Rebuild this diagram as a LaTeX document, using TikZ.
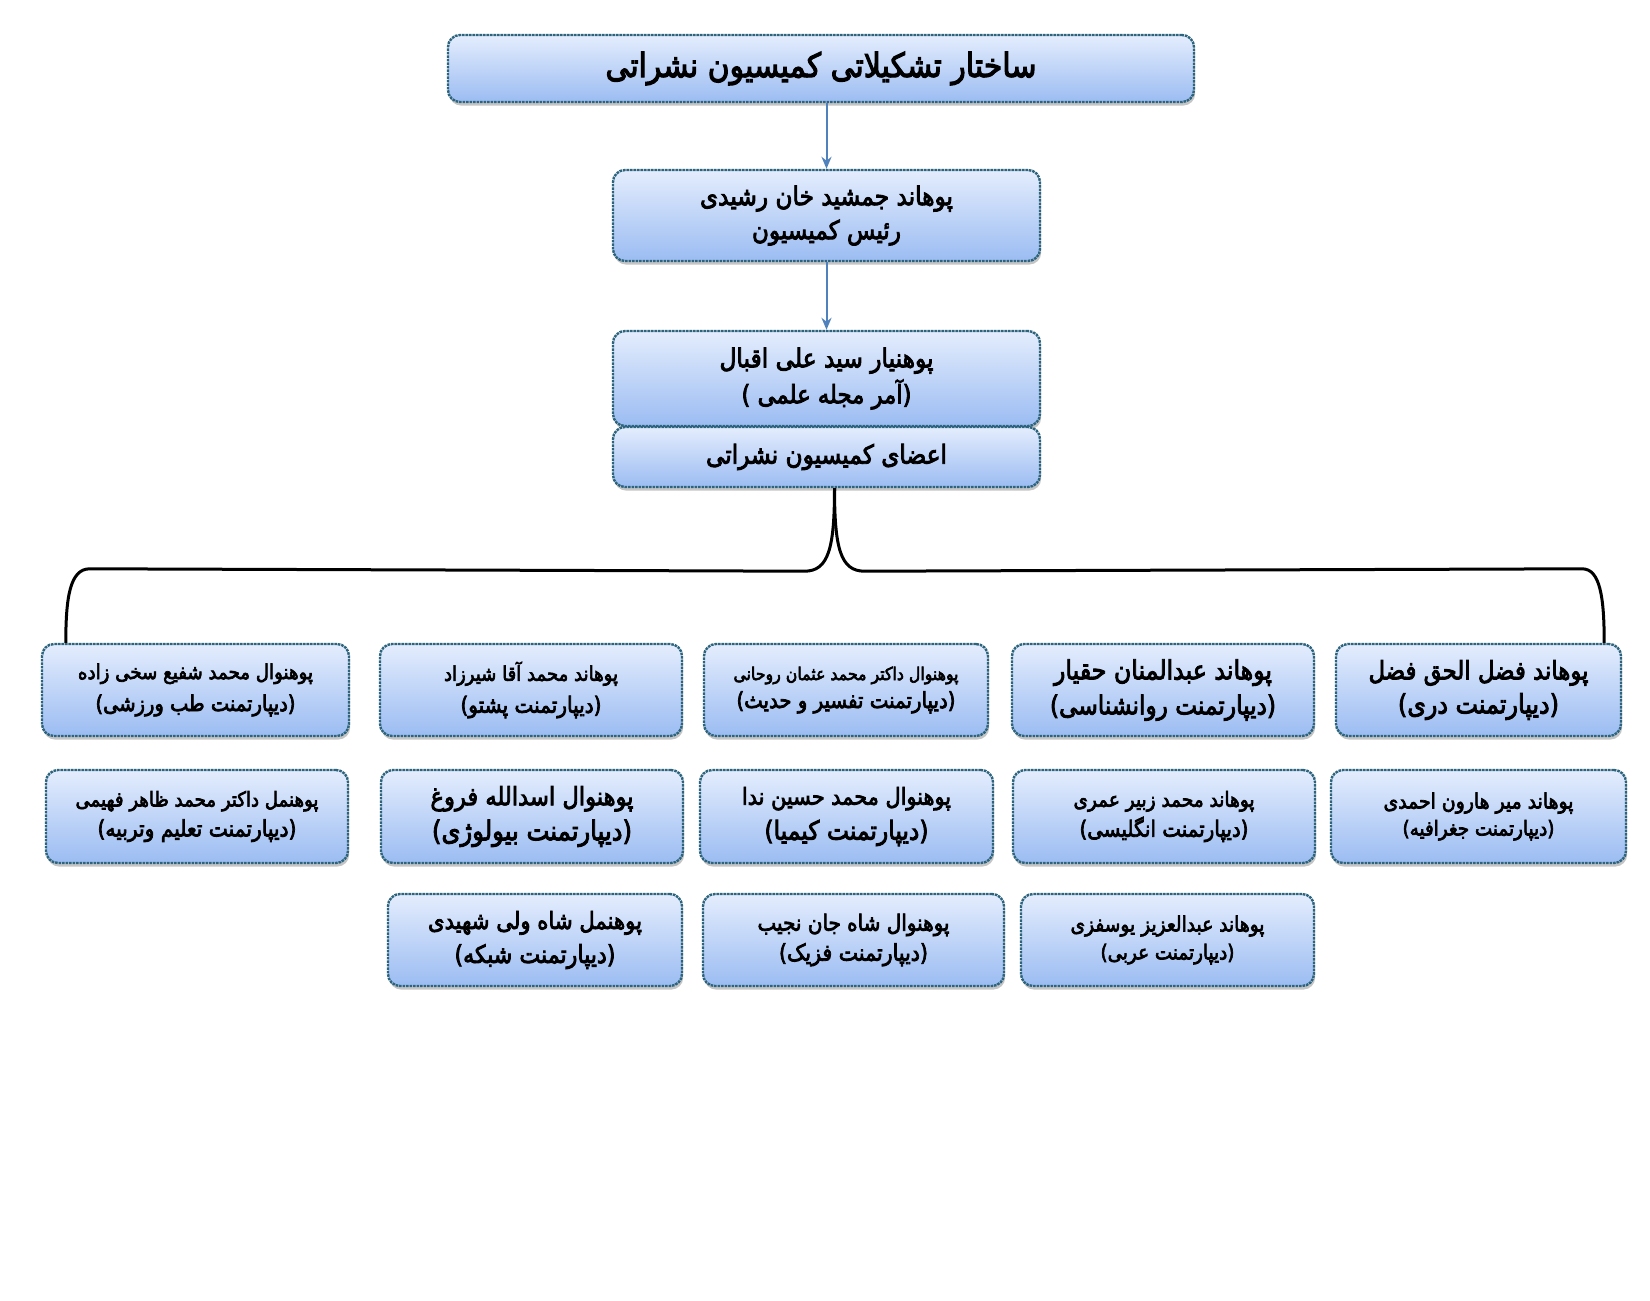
\documentclass[tikz,border=0pt]{standalone}
\usepackage{fontspec}
\usepackage{graphicx}
\usetikzlibrary{shadows,calc,arrows.meta}
\TeXXeTstate=1
\newfontfamily\ar[Script=Arabic,FakeBold=3.5]{DejaVu Sans}
\newdimen\pxu \pxu=0.5pt
\definecolor{bord}{RGB}{45,100,125}
\definecolor{topc}{RGB}{228,237,253}
\definecolor{botc}{RGB}{155,188,242}
\definecolor{arrc}{RGB}{79,129,189}
\newcommand\fs[1]{\fontsize{10pt}{#1pt}\selectfont}
\newcommand\lw[2]{\resizebox{#1\pxu}{!}{\scalebox{1}[1.12]{\ar #2}}}
\tikzset{
  box/.style={draw=bord, line width=1.2pt, dash pattern=on 1.3pt off 0.45pt,
    rounded corners=6pt, top color=topc, bottom color=botc,
    drop shadow={shadow xshift=0.6pt, shadow yshift=-1.8pt, opacity=0.45},
    inner sep=0pt, align=center, text=black},
  arr/.style={draw=arrc, line width=1pt, -{Stealth[length=6pt,width=5pt]}},
  brace/.style={draw=black, line width=1.5pt}
}
\begin{document}
\begin{tikzpicture}[x=0.5pt,y=-0.5pt]
\fill[white] (0,0) rectangle (1650,1301);
\useasboundingbox (0,0) rectangle (1650,1301);

\node[box, minimum width=373pt, minimum height=33.5pt, font=\fs{20}] (title) at (821,68.5)
  {\lw{431}{\beginR ساختار تشکیلاتی کمیسیون نشراتی\endR}};
\node[box, minimum width=213.5pt, minimum height=45.5pt, font=\fs{17}] (rais) at (826.5,215.5)
  {\lw{253}{\beginR پوهاند جمشید خان رشیدی\endR}\\\lw{149}{\beginR رئیس کمیسیون\endR}};
\node[box, minimum width=213.5pt, minimum height=47.5pt, font=\fs{18}] (ali) at (826.5,378.5)
  {\lw{214}{\beginR پوهنیار سید علی اقبال\endR}\\\lw{170}{\beginR (آمر مجله علمی )\endR}};
\node[box, minimum width=213.5pt, minimum height=30pt, font=\fs{17}] (azai) at (826.5,457)
  {\lw{241}{\beginR اعضای کمیسیون نشراتی\endR}};

% row 1
\node[box, minimum width=153.5pt, minimum height=46pt, font=\fs{16}] (b1) at (195.5,690)
  {\lw{235}{\beginR پوهنوال محمد شفیع سخی زاده\endR}\\\lw{200}{\beginR (دیپارتمنت طب ورزشی)\endR}};
\node[box, minimum width=151pt, minimum height=46pt, font=\fs{16}] (b2) at (531,690)
  {\lw{174}{\beginR پوهاند محمد آقا شیرزاد\endR}\\\lw{141}{\beginR (دیپارتمنت پشتو)\endR}};
\node[box, minimum width=142pt, minimum height=46pt, font=\fs{14}] (b3) at (846,690)
  {\lw{225}{\beginR پوهنوال داکتر محمد عثمان روحانی\endR}\\\lw{219}{\beginR (دیپارتمنت تفسیر و حدیث)\endR}};
\node[box, minimum width=151pt, minimum height=46pt, font=\fs{17.5}] (b4) at (1163,690)
  {\lw{218}{\beginR پوهاند عبدالمنان حقیار\endR}\\\lw{226}{\beginR (دیپارتمنت روانشناسی)\endR}};
\node[box, minimum width=142.5pt, minimum height=46pt, font=\fs{17}] (b5) at (1478.5,690)
  {\lw{220}{\beginR پوهاند فضل الحق فضل\endR}\\\lw{161}{\beginR (دیپارتمنت دری)\endR}};

% row 2
\node[box, minimum width=151pt, minimum height=46.5pt, font=\fs{15}] (c1) at (197,816.5)
  {\lw{243}{\beginR پوهنمل داکتر محمد ظاهر فهیمی\endR}\\\lw{199}{\beginR (دیپارتمنت تعلیم وتربیه)\endR}};
\node[box, minimum width=151pt, minimum height=46.5pt, font=\fs{17.5}] (c2) at (532,816.5)
  {\lw{203}{\beginR پوهنوال اسدالله فروغ\endR}\\\lw{200}{\beginR (دیپارتمنت بیولوژی)\endR}};
\node[box, minimum width=146.5pt, minimum height=46.5pt, font=\fs{17.5}] (c3) at (846.5,816.5)
  {\lw{209}{\beginR پوهنوال محمد حسین ندا\endR}\\\lw{164}{\beginR (دیپارتمنت کیمیا)\endR}};
\node[box, minimum width=151pt, minimum height=46.5pt, font=\fs{15}] (c4) at (1164,816.5)
  {\lw{181}{\beginR پوهاند محمد زبیر عمری\endR}\\\lw{169}{\beginR (دیپارتمنت انگلیسی)\endR}};
\node[box, minimum width=147.5pt, minimum height=46.5pt, font=\fs{13.5}] (c5) at (1478.5,816.5)
  {\lw{190}{\beginR پوهاند میر هارون احمدی\endR}\\\lw{152}{\beginR (دیپارتمنت جغرافیه)\endR}};

% row 3
\node[box, minimum width=147pt, minimum height=46pt, font=\fs{17}] (d1) at (535,940)
  {\lw{214}{\beginR پوهنمل شاه ولی شهیدی\endR}\\\lw{161}{\beginR (دیپارتمنت شبکه)\endR}};
\node[box, minimum width=150.5pt, minimum height=46pt, font=\fs{15}] (d2) at (853.5,940)
  {\lw{192}{\beginR پوهنوال شاه جان نجیب\endR}\\\lw{149}{\beginR (دیپارتمنت فزیک)\endR}};
\node[box, minimum width=146.5pt, minimum height=46pt, font=\fs{14}] (d3) at (1167.5,940)
  {\lw{194}{\beginR پوهاند عبدالعزیز یوسفزی\endR}\\\lw{134}{\beginR (دیپارتمنت عربی)\endR}};

% arrows
\draw[arr] (title.south -| rais.north) -- (rais.north);
\draw[arr] (rais.south) -- (ali.north);

% bracket
\coordinate (bt) at ($(azai.south)+(8,0)$);
\coordinate (bl) at ($(b1.north west)+(25,0)$);
\coordinate (br) at ($(b5.north east)+(-18,0)$);
\draw[brace] (bt) .. controls ($(bt)+(0,60)$) and ($(bt)+(-6,83)$) .. ($(bt)+(-30,83)$)
  -- ($(bl)+(24,-74)$) .. controls ($(bl)+(4,-74)$) and ($(bl)+(0,-45)$) .. (bl);
\draw[brace] (bt) .. controls ($(bt)+(0,60)$) and ($(bt)+(6,83)$) .. ($(bt)+(30,83)$)
  -- ($(br)+(-22,-74)$) .. controls ($(br)+(-4,-74)$) and ($(br)+(0,-45)$) .. (br);
\end{tikzpicture}
\end{document}
